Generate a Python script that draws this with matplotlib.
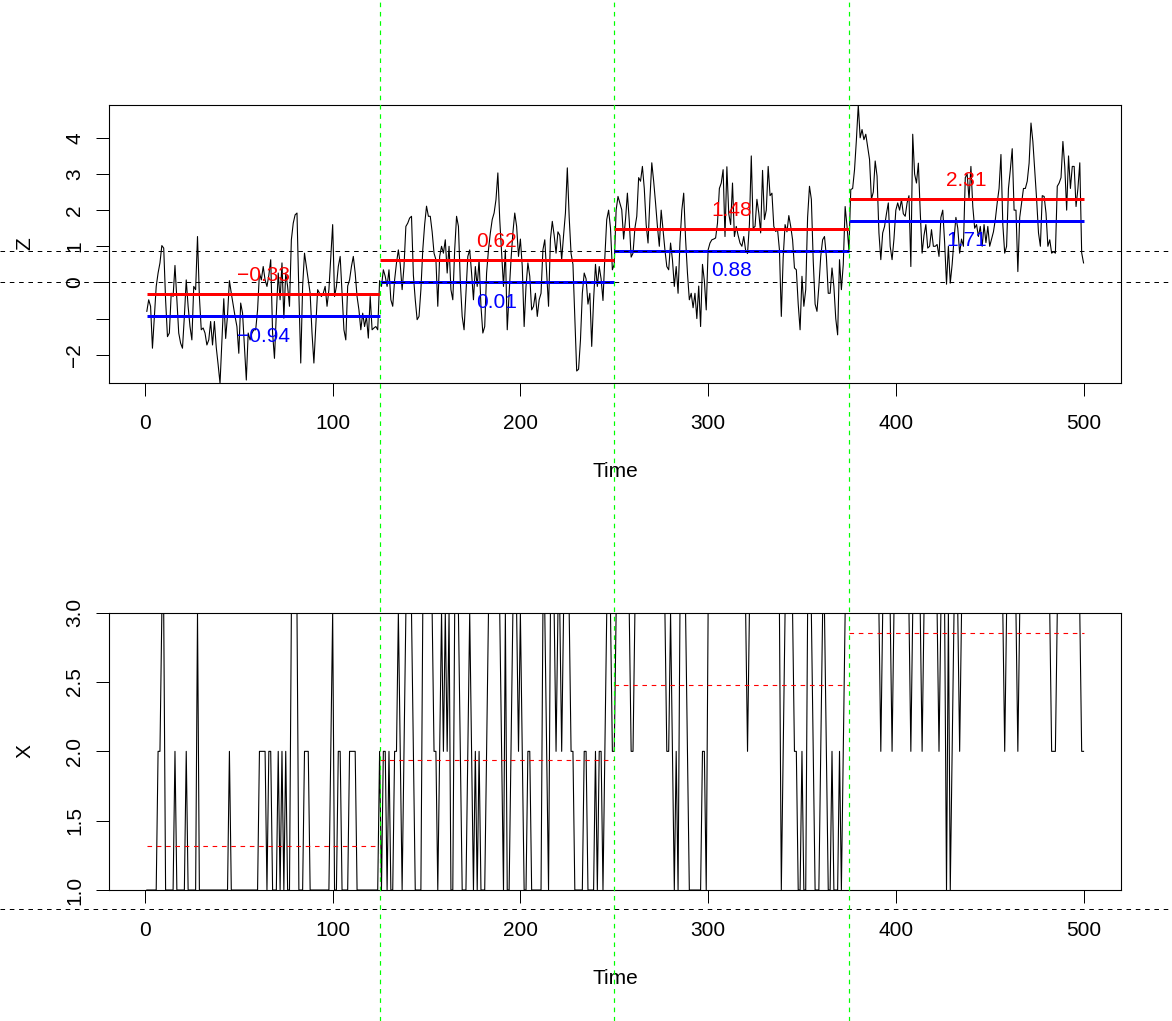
import numpy as np
import matplotlib
matplotlib.use("Agg")
import matplotlib.pyplot as plt
from matplotlib.lines import Line2D
from matplotlib.transforms import blended_transform_factory

plt.rcParams['font.family'] = ['Liberation Sans', 'DejaVu Sans']
plt.rcParams['lines.scale_dashes'] = False

# ---------------- data ----------------
z_values = [
    -0.80, -0.48, -0.66, -1.82, -0.94, -0.11, 0.26, 0.54, 1.02, 0.95,
    -0.48, -1.50, -1.40, -0.30, -0.39, 0.47, -0.48, -1.40, -1.68, -1.82,
    -0.94, 0.07, -0.66, -1.22, -1.59, -0.11, -0.20, 1.27, -0.39, -1.31,
    -1.26, -1.40, -1.73, -1.59, -1.08, -1.73, -1.08, -1.80, -2.28, -2.79,
    -1.59, -0.45, -1.55, -0.90, 0.05, -0.30, -0.62, -0.94, -1.22, -1.96,
    -0.57, -0.85, -1.77, -2.70, -1.40, -1.59, -1.40, -1.31, -1.31, -0.76,
    0.26, 0.07, 0.44, 0.07, -0.11, 0.20, 0.63, -1.40, -2.10, -0.85,
    0.26, -0.48, 0.54, -0.99, 0.26, -0.11, -0.66, 1.18, 1.64, 1.87,
    1.92, -0.30, -2.23, -0.11, 0.81, 0.44, 0.05, -0.30, -1.40, -2.23,
    -1.22, -0.20, -0.30, -0.39, -0.30, -0.11, -0.66, -0.20, 0.72, 1.60,
    -0.39, -0.11, 0.44, 0.72, -0.30, -1.31, -1.59, -0.10, 0.07, 0.44,
    0.72, 0.26, -0.39, -0.76, -1.31, -0.85, -1.22, -0.94, -1.54, -0.39,
    -1.31, -1.26, -1.22, -1.31, 0.05, -0.11, 0.35, 0.17, -0.11, 0.35,
    -0.48, -0.66, 0.07, 0.54, 0.90, 0.50, -0.20, 0.44, 1.55, 1.64,
    1.78, 1.83, 0.20, -0.48, -1.03, -0.94, -0.20, 0.90, 1.60, 2.11,
    1.83, 1.83, 1.40, 0.81, 0.63, -0.66, 0.72, 1.00, 0.81, 1.18,
    0.26, 1.00, -0.20, -0.48, 0.90, 1.83, 1.55, 0.03, -0.94, -1.31,
    -0.30, 0.72, 0.90, 0.26, -0.48, 0.44, -0.11, 0.63, -0.66, -1.40,
    -1.22, 0.26, 0.90, 1.37, 1.74, 1.92, 2.29, 3.03, 1.74, 0.81,
    -0.11, 0.90, -1.31, -0.30, 0.63, 1.37, 1.92, 1.55, 0.72, 1.20,
    0.44, -1.22, -0.11, 0.54, 0.17, -0.76, -0.66, -0.30, -0.94, -0.48,
    -0.30, 0.90, 1.18, 0.26, -0.66, 1.20, 1.69, 1.30, 0.81, 1.40,
    1.30, 0.63, 1.30, 1.92, 3.17, 1.80, 0.80, 0.50, -1.00, -2.45,
    -2.40, -1.60, -0.30, 0.26, 0.10, -0.60, -0.30, -1.77, -0.48, 0.50,
    -0.11, 0.44, 0.10, -0.50, 0.70, 1.74, 2.00, 1.50, 0.35, 0.50,
    2.00, 2.38, 2.20, 2.01, 1.20, 1.74, 2.47, 1.70, 0.70, 0.81,
    1.50, 1.83, 2.90, 2.80, 3.21, 2.60, 1.60, 1.09, 2.30, 3.31,
    2.80, 2.20, 1.55, 1.00, 2.00, 1.46, 0.90, 0.44, 0.35, 1.09,
    0.63, -0.11, 0.44, -0.30, 1.10, 2.00, 2.47, 1.20, 0.26, -0.48,
    -0.30, -0.70, -0.30, -1.00, -0.10, -1.22, 0.50, 0.05, -0.76, 0.90,
    1.09, 1.18, 1.20, 1.23, 1.64, 2.60, 2.75, 3.12, 1.27, 3.20,
    1.90, 1.60, 2.75, 1.27, 1.55, 1.30, 1.09, 1.00, 1.27, 0.88,
    0.80, 1.60, 3.50, 1.50, 1.55, 2.30, 1.92, 1.37, 3.10, 1.74,
    2.00, 3.21, 2.40, 2.47, 1.55, 1.41, 1.46, 0.90, -0.94, 0.70,
    1.60, 1.40, 1.85, 1.55, 1.18, 0.40, 0.35, -0.60, -1.31, 0.17,
    -0.66, -0.20, 1.80, 2.66, 2.30, 0.60, -0.60, -0.80, -0.11, 0.72,
    1.18, 1.27, 0.72, -0.30, -0.30, 0.40, -0.11, -1.00, -1.45, 0.63,
    -0.20, 0.50, 2.10, 1.55, 0.90, 2.57, 2.60, 3.12, 3.95, 4.91,
    4.00, 4.23, 3.95, 4.10, 3.75, 3.40, 2.30, 2.50, 3.36, 2.94,
    1.37, 0.63, 1.37, 1.55, 1.90, 2.20, 1.00, 0.63, 1.20, 2.00,
    2.20, 2.00, 2.29, 1.90, 1.83, 2.20, 2.40, 0.44, 4.10, 3.00,
    2.75, 3.30, 1.95, 0.81, 1.30, 1.60, 0.95, 1.00, 1.46, 1.00,
    1.00, 1.05, 0.72, 1.80, 2.00, 1.10, -0.05, 1.00, -0.02, 0.50,
    1.20, 1.80, 1.50, 0.81, 1.20, 1.00, 2.90, 3.00, 2.30, 3.21,
    2.10, 1.50, 1.60, 1.27, 1.55, 1.00, 1.60, 1.10, 1.55, 1.00,
    1.20, 1.40, 1.74, 2.20, 2.60, 3.54, 1.60, 0.81, 1.00, 2.60,
    3.12, 3.70, 2.00, 2.00, 0.30, 1.80, 2.20, 2.60, 2.60, 2.80,
    3.30, 4.41, 3.90, 3.10, 2.30, 1.37, 1.00, 2.40, 2.38, 1.92,
    1.00, 1.18, 0.81, 0.85, 0.81, 2.66, 2.75, 2.90, 3.90, 3.20,
    2.00, 3.50, 2.60, 3.21, 3.21, 2.10, 2.60, 3.31, 0.82, 0.54,
]

x_states = [
    1, 1, 1, 1, 1, 1, 2, 2, 3, 3,
    1, 1, 1, 1, 1, 2, 1, 1, 1, 1,
    1, 2, 1, 1, 1, 1, 1, 3, 1, 1,
    1, 1, 1, 1, 1, 1, 1, 1, 1, 1,
    1, 1, 1, 1, 2, 1, 1, 1, 1, 1,
    1, 1, 1, 1, 1, 1, 1, 1, 1, 1,
    2, 2, 2, 2, 1, 2, 2, 1, 1, 1,
    2, 1, 2, 1, 2, 1, 1, 3, 3, 3,
    3, 1, 1, 1, 2, 2, 2, 1, 1, 1,
    1, 1, 1, 1, 1, 1, 1, 1, 2, 3,
    1, 1, 2, 2, 1, 1, 1, 1, 2, 2,
    2, 2, 1, 1, 1, 1, 1, 1, 1, 1,
    1, 1, 1, 1, 2, 1, 2, 2, 1, 2,
    1, 1, 2, 2, 3, 2, 1, 2, 3, 3,
    3, 3, 2, 1, 1, 1, 1, 3, 3, 3,
    3, 3, 3, 2, 2, 1, 2, 3, 2, 3,
    2, 3, 1, 1, 3, 3, 3, 2, 1, 1,
    1, 2, 3, 2, 1, 2, 1, 2, 1, 1,
    1, 2, 3, 3, 3, 3, 3, 3, 3, 2,
    1, 3, 1, 1, 2, 3, 3, 3, 2, 3,
    2, 1, 1, 2, 2, 1, 1, 1, 1, 1,
    1, 3, 3, 2, 1, 3, 3, 3, 2, 3,
    3, 2, 3, 3, 3, 3, 2, 2, 1, 1,
    1, 1, 1, 2, 2, 1, 1, 1, 1, 2,
    1, 2, 2, 1, 2, 3, 3, 3, 2, 2,
    3, 3, 3, 3, 3, 3, 3, 3, 2, 2,
    3, 3, 3, 3, 3, 3, 3, 3, 3, 3,
    3, 3, 3, 3, 3, 3, 3, 2, 2, 3,
    2, 1, 2, 1, 3, 3, 3, 3, 2, 1,
    1, 1, 1, 1, 1, 1, 2, 2, 1, 3,
    3, 3, 3, 3, 3, 3, 3, 3, 3, 3,
    3, 3, 3, 3, 3, 3, 3, 3, 3, 3,
    2, 3, 3, 3, 3, 3, 3, 3, 3, 3,
    3, 3, 3, 3, 3, 3, 3, 3, 1, 2,
    3, 3, 3, 3, 3, 2, 2, 1, 1, 2,
    1, 1, 3, 3, 3, 2, 1, 1, 1, 2,
    3, 3, 2, 1, 1, 2, 1, 1, 1, 2,
    1, 2, 3, 3, 3, 3, 3, 3, 3, 3,
    3, 3, 3, 3, 3, 3, 3, 3, 3, 3,
    3, 2, 3, 3, 3, 3, 3, 2, 3, 3,
    3, 3, 3, 3, 3, 3, 3, 2, 3, 3,
    3, 3, 3, 2, 3, 3, 3, 3, 3, 3,
    3, 3, 2, 3, 3, 3, 1, 3, 1, 2,
    3, 3, 3, 2, 3, 3, 3, 3, 3, 3,
    3, 3, 3, 3, 3, 3, 3, 3, 3, 3,
    3, 3, 3, 3, 3, 3, 3, 2, 3, 3,
    3, 3, 3, 3, 2, 3, 3, 3, 3, 3,
    3, 3, 3, 3, 3, 3, 3, 3, 3, 3,
    3, 3, 2, 2, 2, 3, 3, 3, 3, 3,
    3, 3, 3, 3, 3, 3, 3, 3, 2, 2,
]

seg_starts = [1, 125, 250, 375]
seg_ends = [125, 250, 375, 500]
z_upper_means = [-0.33, 0.62, 1.48, 2.31]   # red
z_lower_means = [-0.94, 0.01, 0.88, 1.71]   # blue
x_means = [1.32, 1.94, 2.48, 2.85]          # red dashed (bottom)
thresholds = [0.0, 0.865]                   # black dashed
change_points = [125, 250, 375]             # green dashed

time_ticks = [0, 100, 200, 300, 400, 500]
time_tick_labels = ['0', '100', '200', '300', '400', '500']
z_ticks = [-2, -1, 0, 1, 2, 3, 4]
z_tick_labels = ['\u22122', '', '0', '1', '2', '3', '4']
x_ticks = [1.0, 1.5, 2.0, 2.5, 3.0]
x_tick_labels = ['1.0', '1.5', '2.0', '2.5', '3.0']

# ---------------- drawing ----------------
PX = 72.0 / 100.0          # points per pixel
DASH = (0, (3.3, 3.4))
FS = 15

time = np.arange(1, len(z_values) + 1)

fig = plt.figure(figsize=(11.72, 10.21), dpi=100)
ax1 = fig.add_axes([0.0933, 0.6246, 0.8632, 0.2726])
ax2 = fig.add_axes([0.0933, 0.1283, 0.8632, 0.2716])


def fmt(v):
    return f"{v:.2f}".replace('-', '\u2212')


def style(ax):
    for s in ax.spines.values():
        s.set_linewidth(1.1 * PX)
        s.set_color('black')
    ax.tick_params(direction='out', length=12.7 * PX, width=1.0 * PX,
                   labelsize=FS, colors='black')
    ax.tick_params(axis='x', pad=13)
    ax.tick_params(axis='y', pad=9)


# top panel
ax1.plot(time, z_values, color='black', lw=1.1 * PX, zorder=2)
ax1.margins(x=0.04, y=0)
ax1.hlines(z_upper_means, seg_starts, seg_ends, colors='red', lw=3 * PX, zorder=3)
ax1.hlines(z_lower_means, seg_starts, seg_ends, colors='blue', lw=3 * PX, zorder=3)
for s, e, m in zip(seg_starts, seg_ends, z_upper_means):
    ax1.text((s + e) / 2, m + 0.57, fmt(m), color='red', ha='center',
             va='center_baseline', fontsize=FS, zorder=4)
for s, e, m in zip(seg_starts, seg_ends, z_lower_means):
    ax1.text((s + e) / 2, m - 0.50, fmt(m), color='blue', ha='center',
             va='center_baseline', fontsize=FS, zorder=4)
style(ax1)
ax1.set_xticks(time_ticks)
ax1.set_xticklabels(time_tick_labels)
ax1.set_yticks(z_ticks)
ax1.set_yticklabels(z_tick_labels)
ax1.set_xlabel('Time', fontsize=FS)
ax1.xaxis.set_label_coords(0.5, -0.284)
ax1.set_ylabel('Z', fontsize=FS)
ax1.yaxis.set_label_coords(-0.074, 0.5)

# bottom panel
ax2.plot(time, x_states, color='black', lw=1.1 * PX, zorder=2)
ax2.set_ylim(1, 3)
ax2.margins(x=0.04)
ax2.hlines(x_means, seg_starts, seg_ends, colors='red', lw=1.1 * PX,
           linestyles=[DASH], zorder=3)
style(ax2)
ax2.set_xticks(time_ticks)
ax2.set_xticklabels(time_tick_labels)
ax2.set_yticks(x_ticks)
ax2.set_yticklabels(x_tick_labels)
ax2.set_xlabel('Time', fontsize=FS)
ax2.xaxis.set_label_coords(0.5, -0.285)
ax2.set_ylabel('X', fontsize=FS)
ax2.yaxis.set_label_coords(-0.074, 0.5)

for ax in (ax1, ax2):
    for lab in ax.get_yticklabels():
        lab.set_rotation(90)
        lab.set_verticalalignment('center')

# figure-wide reference lines
for ax in (ax1, ax2):
    tr = blended_transform_factory(fig.transFigure, ax.transData)
    for h in thresholds:
        fig.add_artist(Line2D([0, 1], [h, h], transform=tr, color='black',
                              lw=1.0 * PX, linestyle=DASH, zorder=5))

trv = blended_transform_factory(ax1.transData, fig.transFigure)
for c in change_points:
    fig.add_artist(Line2D([c, c], [0, 1], transform=trv, color='#00FF00',
                          lw=1.2 * PX, linestyle=DASH, zorder=6))

fig.savefig('out.png', dpi=100)
